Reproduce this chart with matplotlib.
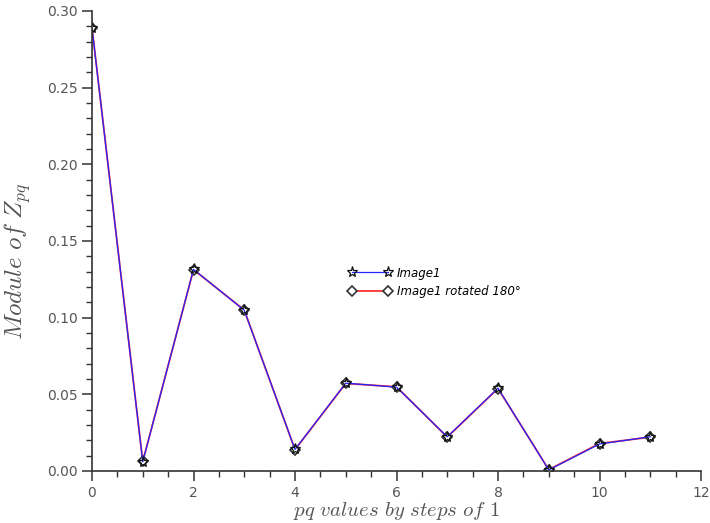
import matplotlib.pyplot as plt
from matplotlib.ticker import MultipleLocator
import numpy as np

# moments |Z_pq| for the image and its 180 degree rotation
pq = [0, 1, 2, 3, 4, 5, 6, 7, 8, 9, 10, 11]
z_image = [0.289, 0.006, 0.1315, 0.1048, 0.0141, 0.0573, 0.0547, 0.0223, 0.054, 0.0007, 0.0176, 0.0223]
z_rotated = [0.2892, 0.0062, 0.1313, 0.1050, 0.0139, 0.0571, 0.0549, 0.0221, 0.0538, 0.0009, 0.0179, 0.0221]

plt.rcParams['mathtext.fontset'] = 'cm'

fig = plt.figure(figsize=(7.1, 5.23), dpi=100)
ax = fig.add_axes([92 / 710, 52 / 523, 609 / 710, 460 / 523])

ax.plot(pq, z_rotated, color='#ff3333', lw=1.3, marker='D', ms=5.5,
        mfc='white', mec='#333333', mew=1.2, label='Image1 rotated 180°')
ax.plot(pq, z_image, color='#2222ff', lw=0.9, marker='*', ms=8,
        mfc='none', mec='#111111', mew=0.9, label='Image1')

ax.set_xlim(0, 12)
ax.set_ylim(0, 0.30)
ax.xaxis.set_major_locator(MultipleLocator(2))
ax.xaxis.set_minor_locator(MultipleLocator(0.5))
ax.yaxis.set_major_locator(MultipleLocator(0.05))
ax.yaxis.set_minor_locator(MultipleLocator(0.01))
ax.yaxis.set_major_formatter(plt.FormatStrFormatter('%.2f'))

for side in ['top', 'right']:
    ax.spines[side].set_visible(False)
for side in ['left', 'bottom']:
    ax.spines[side].set_color('#333333')
    ax.spines[side].set_linewidth(1.2)
ax.tick_params(which='major', length=7, width=1.1, color='#333333',
               labelsize=10, labelcolor='#555555')
ax.tick_params(which='minor', length=4, width=1.0, color='#333333')

ax.set_xlabel(r'$pq\ values\ by\ steps\ of\ 1$', fontsize=15,
              color='#555555', labelpad=0)
ax.set_ylabel(r'$Module\ of\ Z_{pq}$', fontsize=18, color='#555555')
ax.yaxis.set_label_coords(-0.097, 0.455)

handles, labels = ax.get_legend_handles_labels()
leg = fig.legend(handles[::-1], labels[::-1], loc='upper left',
                 bbox_to_anchor=(338 / 710, 1 - 256 / 523), frameon=False,
                 handlelength=3.6, numpoints=2, fontsize=8.5,
                 labelspacing=0.45, handletextpad=0.5)
for t in leg.get_texts():
    t.set_style('italic')

fig.savefig('out.png', dpi=100)
